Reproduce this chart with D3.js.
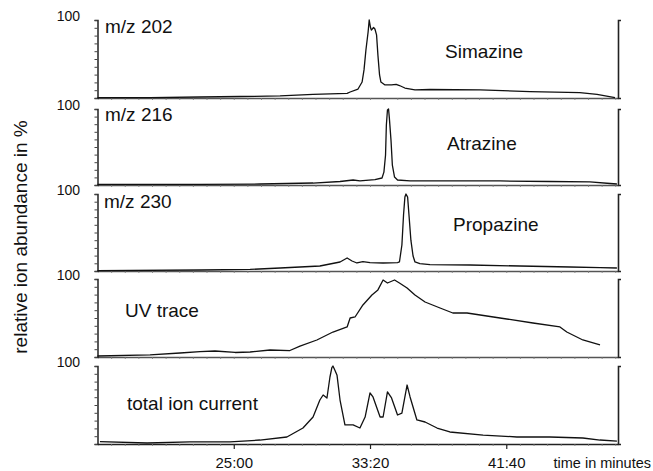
<!DOCTYPE html>
<html>
<head>
<meta charset="utf-8">
<script src="https://cdn.jsdelivr.net/npm/d3@7"></script>
<style>
  html, body { margin: 0; padding: 0; background: #fff; }
  svg { display: block; font-family: "Liberation Sans", Arial, sans-serif; }
</style>
</head>
<body>
<svg id="chart" width="653" height="471"></svg>
<script>
// ---- data (time in seconds, relative abundance in %) ----
const panelLabels = ["m/z 202", "m/z 216", "m/z 230", "UV trace", "total ion current"];
const compoundNames = ["Simazine", "Atrazine", "Propazine"];
const timeTicks = [1500, 2000, 2500];
const yTopLabel = "100";

const simazine = [[1000,0.6],[1193,0.6],[1376,1.3],[1523,1.9],[1670,2.6],[1791,4.7],[1916,6.0],[1927,7.7],[1956,11.5],[1971,20.5],[1978,36],[1985,61.5],[1993,84.6],[1997,100],[2002,90],[2005,87],[2013,90.4],[2018,88.5],[2024,81],[2029,55],[2035,29.5],[2040,20.5],[2055,16.7],[2079,16.7],[2096,17.5],[2108,16],[2128,12.8],[2165,10.3],[2220,10.9],[2404,10.3],[2587,8.3],[2770,7],[2833,4.7],[2899,0.6]];

const atrazine = [[1000,0.7],[1376,0.7],[1596,1.3],[1791,2.6],[1890,4.6],[1938,6.6],[1963,5.3],[2018,7.2],[2044,9.2],[2051,17],[2057,39.5],[2060,79],[2064,98.7],[2068,100],[2071,88],[2077,59],[2082,26],[2090,10.5],[2101,6.6],[2147,5.3],[2293,5.3],[2477,5.3],[2660,4.6],[2807,4],[2881,2],[2906,1.3]];

const propazine = [[1000,0.6],[1376,1.3],[1560,2],[1670,3.9],[1816,6.5],[1890,11.7],[1916,16.9],[1934,13],[1952,10.4],[1974,12.3],[2000,11],[2048,10.4],[2101,11],[2108,11.7],[2117,33.8],[2123,72.7],[2128,96],[2132,100],[2138,96],[2143,72.7],[2150,40],[2158,19.5],[2165,11.7],[2183,9.7],[2220,8.4],[2367,7.8],[2550,6.5],[2734,5.2],[2844,4.5],[2906,3.9]];

const uvTrace = [[1000,1.3],[1193,2.6],[1303,5.1],[1376,7],[1431,7.7],[1505,5.8],[1560,6.4],[1633,9],[1706,8.3],[1743,14],[1805,21.8],[1864,32],[1916,38.5],[1927,50],[1945,51.3],[1974,66.7],[2007,79.5],[2029,86],[2048,98.7],[2064,94.9],[2090,98.7],[2108,94.9],[2136,88.5],[2165,79.5],[2202,70.5],[2257,62.8],[2304,56.4],[2356,56.4],[2477,50],[2598,43.6],[2697,38.5],[2722,32],[2781,21.8],[2844,15.4]];

const totalIon = [[1009,3],[1182,1.3],[1339,2.6],[1486,2.6],[1596,5.1],[1695,9],[1754,20.5],[1791,34.6],[1816,56.4],[1828,62.8],[1842,59],[1853,85.9],[1860,98],[1864,100],[1872,94],[1879,88],[1890,56.4],[1908,24.4],[1938,24.4],[1963,20.5],[1982,34.6],[2000,65.4],[2011,60.3],[2037,34.6],[2048,34.6],[2064,66.7],[2079,59],[2101,37.2],[2117,39.7],[2136,75.6],[2147,60.3],[2172,30.8],[2202,28.2],[2246,20.5],[2293,15.4],[2415,11.5],[2539,9],[2660,9],[2781,7.7],[2844,5.1],[2906,3.8]];

const series = [simazine, atrazine, propazine, uvTrace, totalIon];

// ---- layout ----
const svg = d3.select("#chart");
const panelTop = [20, 109, 194, 279, 366];
const panelBottom = [98, 185, 271, 357, 444];
const x = d3.scaleLinear().domain([1000, 2910]).range([97.5, 618]);
const fmt = s => `${Math.floor(s / 60)}:${String(s % 60).padStart(2, "0")}`;
const minorTicks = d3.range(1050, 2910, 50);

series.forEach((data, i) => {
  const y = d3.scaleLinear().domain([0, 100]).range([panelBottom[i], panelTop[i]]);
  const g = svg.append("g");

  // bottom baseline with minor ticks
  const isLast = i === series.length - 1;
  const bx = g.append("g").attr("transform", `translate(0,${panelBottom[i]})`)
    .call(d3.axisBottom(x).tickValues(minorTicks).tickSize(2).tickSizeOuter(0).tickFormat(""));
  bx.select(".domain").attr("stroke", isLast ? "#222" : "#555").attr("stroke-width", 1.5);
  bx.selectAll(".tick line").attr("stroke", "#777").attr("stroke-width", 0.8);

  if (isLast) {
    const ax = g.append("g").attr("transform", `translate(0,${panelBottom[i]})`)
      .call(d3.axisBottom(x).tickValues(timeTicks).tickSize(5).tickSizeOuter(0).tickFormat(fmt));
    ax.select(".domain").remove();
    ax.selectAll(".tick line").attr("stroke", "#222").attr("stroke-width", 1.2);
    ax.selectAll(".tick text").attr("font-size", 15).attr("fill", "#111")
      .attr("font-family", "Liberation Sans, Arial, sans-serif").attr("dy", "1.05em");
  }

  // left axis
  const la = g.append("g").attr("transform", "translate(97.5,0)")
    .call(d3.axisLeft(y).ticks(10).tickSize(3).tickSizeOuter(3).tickFormat(""));
  la.select(".domain").attr("stroke", "#222").attr("stroke-width", 1.5);
  la.selectAll(".tick line").attr("stroke", "#444").attr("stroke-width", 1);

  // right axis
  const ra = g.append("g").attr("transform", "translate(618,0)")
    .call(d3.axisRight(y).tickValues([]).tickSizeOuter(3));
  ra.select(".domain").attr("stroke", "#222").attr("stroke-width", 1.6);

  // "100" label
  g.append("text").attr("x", 80).attr("y", panelTop[i] + 1)
    .attr("text-anchor", "end").attr("font-size", 14).attr("fill", "#111").text(yTopLabel);

  // trace
  g.append("path").datum(data)
    .attr("fill", "none").attr("stroke", "#111").attr("stroke-width", 1.3)
    .attr("stroke-linejoin", "round")
    .attr("d", d3.line().x(d => x(d[0])).y(d => y(d[1])));
});

// panel labels
const labelPos = [[105, 33], [105, 121], [104, 208], [125, 317], [127, 410]];
panelLabels.forEach((t, i) => {
  svg.append("text").attr("x", labelPos[i][0]).attr("y", labelPos[i][1])
    .attr("font-size", 19).attr("fill", "#111").text(t);
});
const namePos = [[445, 58], [447, 150], [453, 231]];
compoundNames.forEach((t, i) => {
  svg.append("text").attr("x", namePos[i][0]).attr("y", namePos[i][1])
    .attr("font-size", 19).attr("fill", "#111").text(t);
});

// axis titles
svg.append("text").attr("transform", "translate(27,237) rotate(-90)")
  .attr("text-anchor", "middle").attr("font-size", 19).attr("fill", "#111")
  .text("relative ion abundance in %");
svg.append("text").attr("x", 651).attr("y", 468).attr("text-anchor", "end")
  .attr("font-size", 14.5).attr("fill", "#111").text("time in minutes");
</script>
</body>
</html>
